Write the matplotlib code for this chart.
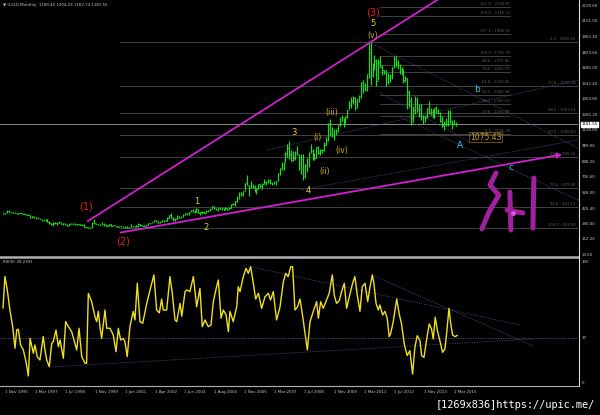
import matplotlib
matplotlib.use('Agg')
import matplotlib.pyplot as plt
import numpy as np
from matplotlib.transforms import blended_transform_factory as btf
from matplotlib.lines import Line2D

# ---------------- data ----------------
# monthly gold bars, Nov 1995 .. May 2015 (month index 0 = Nov 1995)
close = [387, 387,
 405,400,396,392,391,382,385,387,379,379,371,369,
 345,358,349,340,345,334,326,325,332,311,296,290,
 304,297,301,310,294,296,288,273,294,292,294,288,
 287,287,279,286,268,262,255,255,299,299,291,290,
 283,293,278,276,273,289,276,278,273,264,270,273,
 265,267,258,264,267,270,266,273,293,279,275,277,
 282,297,302,308,326,318,304,312,323,317,318,347,
 367,347,334,336,364,346,354,375,385,386,398,416,
 400,396,427,387,394,394,391,408,416,428,453,438,
 423,434,428,435,417,437,429,433,473,470,495,513,
 569,556,583,654,643,614,633,623,599,604,646,632,
 650,665,663,679,659,650,665,673,743,789,783,834,
 923,971,916,864,885,928,914,833,871,718,814,869,
 927,942,916,884,979,926,954,955,1000,1040,1180,1096,
 1081,1118,1113,1180,1212,1244,1181,1247,1307,1357,1386,1421,
 1332,1410,1439,1556,1536,1500,1628,1826,1620,1722,1746,1566,
 1737,1697,1669,1664,1560,1604,1614,1692,1773,1720,1712,1675,
 1663,1578,1596,1472,1393,1234,1313,1395,1327,1323,1250,1202,
 1245,1326,1284,1296,1250,1327,1282,1287,1210,1172,1182,1184,
 1283,1213,1183,1184,1181.55]
high = [390, 393,
 418,416,401,398,394,391,390,392,387,385,383,379,
 368,365,359,352,349,346,335,330,335,336,314,299,
 307,307,302,315,311,300,297,290,298,302,300,297,
 292,291,291,291,292,265,265,260,307,339,300,294,
 292,313,300,290,282,294,294,281,277,273,272,275,
 272,270,269,266,295,272,270,279,296,292,283,280,
 286,304,303,309,328,328,319,318,326,325,325,350,
 370,389,353,341,371,366,360,376,392,392,398,417,
 428,418,430,429,398,404,406,415,417,434,456,455,
 438,438,446,437,436,443,430,447,473,478,497,538,
 574,574,584,654,730,641,677,649,638,609,649,649,
 657,690,672,695,691,668,673,677,743,795,845,841,
 932,1002,1033,953,941,942,988,914,912,920,828,881,
 935,1006,963,927,980,990,960,965,1025,1071,1195,1227,
 1162,1141,1139,1180,1249,1264,1237,1256,1307,1388,1424,1431,
 1424,1411,1447,1563,1577,1552,1632,1913,1921,1734,1803,1764,
 1763,1791,1715,1671,1667,1641,1630,1693,1790,1796,1754,1723,
 1695,1679,1617,1598,1487,1424,1348,1434,1425,1361,1362,1267,
 1269,1332,1392,1331,1315,1332,1345,1323,1293,1256,1208,1238,
 1307,1307,1219,1224,1204.23]
low = [383, 384,
 387,399,393,389,390,380,380,385,377,378,371,367,
 342,341,348,337,340,333,315,320,315,310,293,283,
 276,290,285,300,290,286,286,271,275,287,287,284,
 281,282,278,280,268,256,252,252,253,295,289,282,
 281,283,277,273,269,272,276,270,270,264,263,268,
 262,256,255,256,264,265,262,266,268,277,270,273,
 277,282,290,300,307,313,300,301,312,312,314,316,
 342,347,321,320,338,341,343,353,372,368,375,399,
 394,391,394,385,371,382,385,389,402,410,423,426,
 419,411,424,420,415,413,417,428,432,463,455,489,
 514,540,544,584,637,543,610,611,573,560,605,613,
 608,648,636,658,651,642,648,643,672,727,776,775,
 846,888,875,852,858,863,906,775,740,681,706,756,
 802,926,865,866,882,913,908,929,940,995,1034,1075,
 1072,1044,1088,1111,1163,1208,1154,1176,1241,1315,1332,1361,
 1308,1330,1384,1417,1462,1478,1480,1600,1535,1604,1670,1522,
 1576,1697,1627,1628,1527,1545,1563,1590,1689,1697,1672,1635,
 1626,1555,1562,1321,1338,1180,1207,1271,1292,1251,1221,1182,
 1202,1240,1277,1268,1240,1241,1281,1273,1204,1162,1131,1168,
 1168,1197,1142,1175,1162.74]

# RSI(8) (month index, value)
rsi_month = [0,1,2.2,3.6,5,6.2,7.1,7.9,9.1,10.5,11.9,13.1,14,15.7,16.5,17.7,19.1,20.8,21.7,22.6,
 23.9,25.2,26,27.4,28.6,29.5,31.2,32.4,33.8,35.5,36.7,38.1,39.3,40.7,42.4,43.2,44.1,45.8,47.5,48.4,
 49.3,50.1,51,52.7,53.6,55.3,57,58.4,59.6,60.8,62.2,63,64.2,65.6,67.3,68.2,69.4,70.8,72.2,74.3,
 76,78,79.4,80.8,82,82.8,84.6,86.3,87.5,88.9,89.8,91.5,92.4,94.1,95,96.6,98.4,100.1,101.8,103,
 104.4,106.1,107.5,108.7,110.4,111.3,112.7,113.9,115.3,116.5,117.3,119,120.8,121.6,122.5,124.2,
 125.6,126.8,128,129.4,130.6,132,133.7,135.4,137.1,138.3,139.7,141.4,143.2,144.9,146.1,147.4,
 148.7,149.7,150.9,152.3,153.5,154.9,156.1,157.3,158.7,160.4,162.1,163,164.2,165.5,166.9,168.6,
 170.2,171.2,172.4,173.8,175,176.4,177.6,179,180.7,181.9,183.1,184.5,185.7,187.1,188.5,189.7,
 190.9,191.7,192.8,194,194.8,196.2,197.4,198.6,199.6,200.4,201.7,203.5,204.8,206,207.4,208.9,
 210.3,211.7,212.9,214.1,215.5,216.4,217.6,219,220.3,221.5,222.4,223.4,224.5,225.8,227.2,228.4,
 229.3,230.5,231.4,232.4,233.6,234.8]
rsi_value = [62,88,77,60,46.5,28.7,43.8,44.4,31.4,27.3,17.6,5.8,36.9,24.5,31.4,21.8,19,38.3,27.3,19,
 13.5,32.8,34.2,43.8,30,35.5,20.4,50.7,46.5,42.4,35.5,27.3,45.2,21.8,16.3,16.3,74.1,67.2,55.1,50.7,
 59.2,46.5,36.9,60.3,45.2,45.2,39.7,25.9,45.2,35.5,36.9,34.2,21.8,46.5,59.2,52.1,82.4,50.7,49.3,65.8,
 76.9,89.3,60.3,57.9,69.4,60.3,60.3,87.9,74.1,52.1,50.7,65.8,55.1,75.5,76.9,75.5,87.9,63,78.2,46.5,
 52.1,46.5,47.9,67.2,79.6,85.1,53.5,60.3,56.2,42.4,59.2,50.7,63,79.6,75.5,87.9,
 94.8,90.6,96.1,82.4,69.4,74.1,61.7,71.3,74.1,68.6,75.5,52.1,63,83.7,90.6,87.9,
 96.1,96.1,60.3,63,69.4,55.1,41.3,27.3,50.7,59.2,67.2,53.5,67.2,61.7,67.2,74.1,
 89.3,72.7,65.8,68,75.5,82.4,61.7,71.3,82.4,87.9,72.7,59.2,79.6,82.4,67.2,79.6,
 89.3,82.4,65.8,60.3,64.5,56.2,59.2,53.5,38.3,41,50.7,69.4,57,48.8,32.2,22.6,
 26.7,7.4,29.5,39.1,35,22.6,21.2,36.3,48.8,44.6,36.3,54.3,43.3,35,25.3,28.1,
 41,61.7,49.3,39.7,38.3,39.24]

price_ticks = [2239.60, 2101.00, 1962.40, 1823.60, 1685.00, 1542.40, 1403.80, 1265.20,
               1126.60, 989.00, 848.20, 706.60, 568.00, 425.40, 290.00, 152.20, 13.60]
date_labels = ["1 Nov 1995", "1 Mar 1997", "1 Jul 1998", "1 Nov 1999", "1 Jan 2001",
               "1 Apr 2002", "1 Jun 2003", "1 Aug 2004", "1 Nov 2005", "1 Mar 2007",
               "1 Jul 2008", "1 Nov 2009", "1 Mar 2011", "1 Jul 2012", "1 Nov 2013",
               "1 Mar 2015"]
fib_ratios = [0.0, 23.6, 38.2, 50.0, 61.8, 78.6, 88.6, 100.0]
big_fib_top, big_fib_bottom = 1920.65, 253.00
small_fib_ratios = [0.0, 23.6, 38.2, 50.0, 61.8, 78.6, 88.6, 100.0, 127.2, 150.0, 161.8]
small_fib_low, small_fib_high = 1095.0, 1795.75
last_bar = (1189.40, 1204.23, 1162.74, 1181.55)
rsi_last = 39.2391
rsi_level = 37

# ---------------- layout ----------------
W, H = 600, 415
fig = plt.figure(figsize=(6, 4.15), dpi=100, facecolor='black')

def fy(py):
    return 1 - py / H

ax = fig.add_axes([0, fy(256), 578 / W, 256 / H])
ax.set_facecolor('black')
ax.set_xlim(-1.55, 297.2)
ax.set_ylim(4.6, 2293.2)
ax.axis('off')

axr = fig.add_axes([0, fy(386), 578 / W, 128 / H])
axr.set_facecolor('black')
axr.set_xlim(-1.55, 297.2)
axr.set_ylim(-2.5, 103.3)
axr.axis('off')

months = np.arange(len(close))
GRAY = '#4c4c4c'
TXT = '#c8c8c8'
FS = 2.9

# big fib (from 2001 low to 2011 high)
for r in fib_ratios:
    lv = big_fib_top - (big_fib_top - big_fib_bottom) * r / 100
    ax.plot([60.5, 297.2], [lv, lv], color=GRAY, lw=0.6, zorder=1)
    ax.text(296, lv + 10, f"{r:.1f} : {lv:.2f}", color='#5e5e5e', fontsize=2.7,
            ha='right', va='bottom', zorder=2)
# small fib
for r in small_fib_ratios:
    lv = small_fib_low + (small_fib_high - small_fib_low) * r / 100
    ax.plot([195, 262], [lv, lv], color=GRAY, lw=0.6, zorder=1)
    ax.text(262, lv + 10, f"{r:.1f} : {lv:.2f}", color='#5e5e5e', fontsize=2.7,
            ha='right', va='bottom', zorder=2)

# current price line
ax.axhline(last_bar[3], color='#8a8a8a', lw=0.7, zorder=1)

# dotted trend lines
dot = dict(color='#44447e', lw=0.6, ls=(0, (1.5, 1.5)), zorder=1)
ax.plot([192.2, 297.2], [1891, 970], **dot)
ax.plot([205.2, 297.2], [1247, 505], **dot)
ax.plot([153.5, 297.2], [595, 1042], **dot)
ax.plot([136.4, 297.2], [952, 1578], **dot)
ax.plot([194.8, 241.3], [1462, 1024], **dot)

# price bars
ax.vlines(months, low, high, color='#18e018', lw=0.85, zorder=3)
ax.hlines(close, months, months + 0.7, color='#18e018', lw=0.6, zorder=3)

# magenta trend lines
MAG = '#d020d0'
ax.plot([43.9, 226], [317.5, 2311], color=MAG, lw=1.3, zorder=4, clip_on=True)
ax.annotate('', xy=(290.4, 916), xytext=(59.4, 210),
            arrowprops=dict(arrowstyle='-|>', color=MAG, lw=1.3, mutation_scale=7), zorder=4)

# wave labels
RED = '#e82020'
YEL = '#f0d020'
GLD = '#d8b020'
CYA = '#30c8e8'
labs = [("(1)", 42.9, 442.7, RED, 7), ("(2)", 62, 129.8, RED, 7), ("(3)", 191.2, 2177, RED, 7),
        ("5", 191.2, 2079, YEL, 6), ("(v)", 191.2, 1980, GLD, 5.5),
        ("1", 100.3, 496, YEL, 6), ("2", 104.9, 255, YEL, 6), ("3", 150.4, 1113, YEL, 6),
        ("4", 157.6, 586, YEL, 6), ("(i)", 162.3, 1068, GLD, 5.5), ("(ii)", 166.4, 764, GLD, 5.5),
        ("(iii)", 170, 1283, GLD, 5.5), ("(iv)", 175.2, 952, GLD, 5.5),
        ("A", 236.2, 988, CYA, 6.5), ("b", 245, 1489, CYA, 6.5), ("c", 262.5, 800, CYA, 6.5)]
for t, x, y, c, s in labs:
    ax.text(x, y, t, color=c, fontsize=s, ha='center', va='center', zorder=6)
ax.text(249.5, 1068, "1075.43", color='#c8a020', fontsize=5.5, ha='center', va='center', zorder=6,
        bbox=dict(boxstyle='square,pad=0.1', fc='none', ec='#8a7010', lw=0.5))

# magenta hand-drawn scrawl
scr = dict(color='#a020a0', lw=3.6, solid_capstyle='round', solid_joinstyle='round', zorder=5)
strokes = [
    [(254.8, 747), (251.7, 639), (256.3, 550), (251.2, 398), (247.5, 246)],
    [(262.0, 577), (262.5, 237)],
    [(260.5, 416), (268.7, 389)],
    [(274.4, 702), (273.9, 255)],
]
for s in strokes:
    xs, ys = zip(*s)
    ax.plot(xs, ys, **scr)
ax.plot([263.5], [390], 'o', color='#e050e0', ms=2.5, zorder=5)

# title
fig.text(3 / W, fy(5), "\u25bc GOLD,Monthly  " + " ".join(f"{v:.2f}" for v in last_bar),
         color=TXT, fontsize=FS, ha='left', va='center')

# right price axis labels
bt = btf(ax.transAxes, ax.transData)
for v in price_ticks:
    ax.text(1.006, v, f"{v:.2f}", color=TXT, fontsize=FS, ha='left', va='center',
            transform=bt, clip_on=False)
ax.text(1.006, last_bar[3], f"{last_bar[3]:.2f}", color='black', fontsize=FS, ha='left', va='center',
        transform=bt, clip_on=False,
        bbox=dict(boxstyle='square,pad=0.15', fc='white', ec='white'))

# RSI panel
axr.plot(rsi_month, rsi_value, color='#f0e020', lw=1.0, zorder=3)
axr.axhline(rsi_level, **dict(dot, color='#55558f'))
axr.plot([24.3, 273.9], [13.2, 36.4], **dot)
axr.plot([124, 267.2], [97.5, 47.9], **dot)
axr.plot([190.7, 273.9], [89.3, 30.6], **dot)
btr = btf(axr.transAxes, axr.transData)
for v in [100, rsi_level, 0]:
    axr.text(1.006, v, f"{v}", color=TXT, fontsize=FS, ha='left', va='center',
             transform=btr, clip_on=False)
axr.text(0.005, 100, f"RSI(8) {rsi_last:.4f}", color=TXT, fontsize=FS, ha='left', va='center',
         transform=btr)

# frame lines
fig.add_artist(Line2D([0, 578 / W], [fy(257), fy(257)], color='#b0b0b0', lw=1.8))
fig.add_artist(Line2D([0, 578 / W], [fy(386), fy(386)], color='#b0b0b0', lw=0.8))
fig.add_artist(Line2D([578.5 / W, 578.5 / W], [fy(0), fy(386)], color='#e0e0e0', lw=0.8))

# date axis
bx = btf(axr.transData, fig.transFigure)
for i, lab in enumerate(date_labels):
    m = i * 232 / 15
    axr.add_artist(Line2D([m, m], [fy(386), fy(389)], color='#b0b0b0', lw=0.6, transform=bx))
    t = fig.text(0, 0, lab, transform=bx, color=TXT, fontsize=FS, ha='left', va='center')
    t.set_position((m + 1.0, fy(392)))

# watermark
fig.text(595 / W, fy(405), "[1269x836]https://upic.me/", color='white', fontsize=7.4,
         ha='right', va='center', family='DejaVu Sans Mono')

fig.savefig('out.png', dpi=100, facecolor='black')
